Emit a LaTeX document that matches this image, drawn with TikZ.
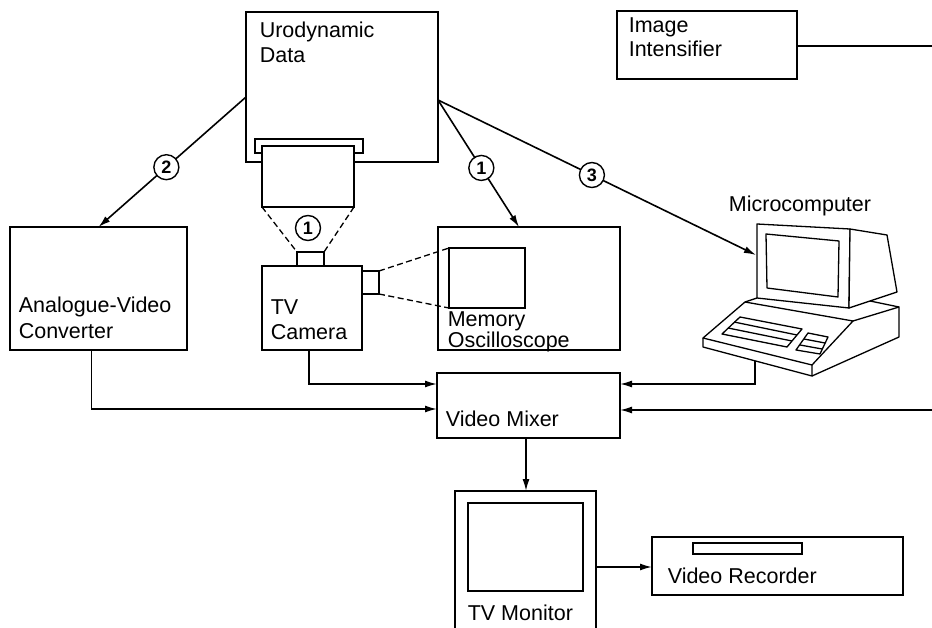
\documentclass[tikz,border=0pt]{standalone}
\usepackage{fontspec}
\setmainfont{Liberation Sans}
\usetikzlibrary{arrows.meta,calc}
\begin{document}
\begin{tikzpicture}[x=1pt,y=-1pt,line width=1.6pt,
  unit/.style={draw,fill=white,rectangle,inner sep=0pt,outer sep=0pt},
  lbl/.style={anchor=base west,inner sep=0pt,font=\fontsize{21.5}{25}\selectfont},
  num/.style={circle,draw,fill=white,inner sep=0pt,minimum size=25pt,line width=1.4pt,
    font=\bfseries\fontsize{18}{18}\selectfont},
  link/.style={-{Latex[length=12pt,width=7pt]}},
  beam/.style={dash pattern=on 6pt off 3.5pt,line width=1.3pt}]
\useasboundingbox (0,0) rectangle (932,628);
\clip (0,0) rectangle (932,628);

% urodynamic data recorder with its film cassette
\node[unit,minimum width=192pt,minimum height=150pt] (uro) at (342,87) {};
\node[lbl] (urot) at (259,38) {Urodynamic};
\node[lbl] (urod) at (259,63) {Data};
\node[unit,minimum width=108pt,minimum height=14pt] (holder) at (309,146) {};
\node[unit,minimum width=92pt,minimum height=61pt] (cass) at (308,176.5) {};

% TV camera with its two lenses
\node[unit,minimum width=100pt,minimum height=84pt] (cam) at (312,308) {};
\node[lbl] (camt) at (270,315) {TV};
\node[lbl] (camc) at (270,340) {Camera};
\node[unit,minimum width=27pt,minimum height=14pt] (lenstop) at (310.5,259) {};
\node[unit,minimum width=17pt,minimum height=23pt] (lensside) at (370.5,282.5) {};

% memory oscilloscope
\node[unit,minimum width=182pt,minimum height=123pt] (osc) at (529,288.5) {};
\node[unit,minimum width=76pt,minimum height=60pt] (scr) at (487,278) {};
\node[lbl] (osct) at (447,327) {Memory};
\node[lbl] (oscb) at (447,348) {Oscilloscope};

% optical paths
\draw[beam] (cass.south west) -- (lenstop.north west);
\draw[beam] (cass.south east) -- (lenstop.north east);
\node[num] (n1a) at (308,228) {1};
\draw[beam] (lensside.north east) -- (scr.north west);
\draw[beam] (lensside.south east) -- (scr.south west);

% analogue-video converter
\node[unit,minimum width=177pt,minimum height=123pt] (conv) at (98.5,288.5) {};
\node[lbl] (convt) at (18,313) {Analogue-Video};
\node[lbl] (convb) at (18,338) {Converter};

% image intensifier
\node[unit,minimum width=180pt,minimum height=68pt] (ii) at (707,45) {};
\node[lbl] (iit) at (628,33) {Image};
\node[lbl] (iib) at (628,57) {Intensifier};

% video mixer
\node[unit,minimum width=183pt,minimum height=65pt] (mix) at (528.5,405.5) {};
\node[lbl] (mixt) at (445,426) {Video Mixer};

% TV monitor
\node[unit,minimum width=141pt,minimum height=159pt] (mon) at (525.5,570.5) {};
\node[unit,minimum width=115pt,minimum height=88pt] (monscr) at (525.5,547) {};
\node[lbl] (mont) at (467,620) {TV Monitor};

% video recorder
\node[unit,minimum width=251pt,minimum height=58pt] (rec) at (777.5,566) {};
\node[unit,minimum width=109pt,minimum height=11pt,line width=1.3pt] (slot) at (747.5,548.5) {};
\node[lbl] (rect) at (667,583) {Video Recorder};

% microcomputer: base with keyboard
\begin{scope}[line width=1.3pt,line join=round]
\draw (745,302) -- (853,321) -- (812,365) -- (703,338) -- cycle;
\draw (703,338) -- (703,347) -- (812,376) -- (812,365);
\draw (812,376) -- (899,337) -- (899,307) -- (853,321);
\draw (745,302) -- (757,298);
\draw (870,301) -- (899,307);
\draw (740,317) -- (802,329) -- (787,347) -- (722,334) -- cycle;
\draw (734,322) -- (797,335);
\draw (728,328) -- (792,341);
\draw (808,333) -- (828,337) -- (820,354) -- (796,350) -- cycle;
\draw (804,339) -- (825,343);
\draw (800,345) -- (822,349);
% monitor
\draw[fill=white] (757,224) -- (850,229) -- (849,308) -- (757,298) -- cycle;
\draw[fill=white] (850,229) -- (887,235) -- (897,292) -- (849,308) -- cycle;
\draw (766,234) -- (839,241) -- (838,297) -- (767,288) -- cycle;
\end{scope}
\node[anchor=base,inner sep=0pt,font=\fontsize{21.5}{25}\selectfont] (mct) at (800,212) {Microcomputer};
\coordinate (mcin) at (756,255);
\coordinate (mcout) at (755,361);

% signal paths from the urodynamic data
\coordinate (u2) at (246,97);
\coordinate (u13) at (438,100);
\draw[link] (u2) -- node[num,pos=0.54] (n2) {2} (conv.north);
\draw[link] (u13) -- node[num,pos=0.535] (n1b) {1} ($(osc.north west)+(81,0)$);
\draw[link] (u13) -- node[num,pos=0.484] (n3) {3} (mcin);

% video mixer inputs
\coordinate (edgein) at (932,410);
\coordinate (edgeout) at (932,46);
\draw[link] ($(conv.south)+(-7,0)$) |- ($(mix.west)+(0,3.5)$);
\draw[link] ($(cam.south)+(-3,0)$) |- ($(mix.north west)+(0,11)$);
\draw[link] (mcout) |- ($(mix.north east)+(0,11)$);
\draw[link] (edgein) -- ($(mix.east)+(0,4.5)$);
\draw (ii.east |- edgeout) -- (edgeout);

% video mixer to monitor to recorder
\draw[link] (mix.south -| 526,0) -- (mon.north -| 526,0);
\draw[link] ($(mon.east)+(0,-3.5)$) -- ($(rec.west)+(0,1)$);
\end{tikzpicture}
\end{document}
